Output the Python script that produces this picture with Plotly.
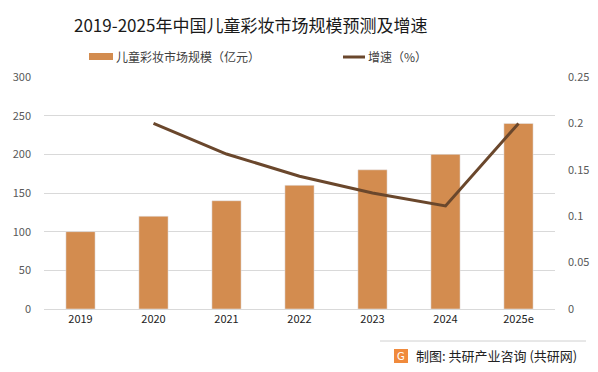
import plotly.graph_objects as go

years = ["2019", "2020", "2021", "2022", "2023", "2024", "2025e"]
market_size = [100, 120, 140, 160, 180, 200, 240]
growth_years = ["2020", "2021", "2022", "2023", "2024", "2025e"]
growth_rate = [0.2, 0.167, 0.143, 0.125, 0.111, 0.2]

title_text = "2019-2025年中国儿童彩妆市场规模预测及增速"
bar_name = "儿童彩妆市场规模（亿元）"
line_name = "增速（%）"
footer_text = "制图: 共研产业咨询 (共研网)"

BAR_COLOR = "#D38C4F"
LINE_COLOR = "#6A472C"
FONT = "Noto Sans CJK SC"

L, R, T, B = 44, 43, 77, 63
W, H = 598, 372
pw, ph = W - L - R, H - T - B

def px(x):
    return (x - L) / pw

def py(y):
    return (H - B - y) / ph

fig = go.Figure()
fig.add_trace(go.Bar(x=years, y=market_size, name=bar_name, marker_color=BAR_COLOR,
                     showlegend=False, yaxis="y", hoverinfo="skip"))
fig.add_trace(go.Scatter(x=growth_years, y=growth_rate, name=line_name, mode="lines",
                         line=dict(color=LINE_COLOR, width=3), showlegend=False, yaxis="y2",
                         hoverinfo="skip"))

shapes = [
    dict(type="rect", xref="paper", yref="paper", x0=px(89), x1=px(113), y0=py(60), y1=py(53),
         fillcolor=BAR_COLOR, line_width=0),
    dict(type="line", xref="paper", yref="paper", x0=px(343), x1=px(365), y0=py(57), y1=py(57),
         line=dict(color=LINE_COLOR, width=3)),
    dict(type="line", xref="paper", yref="paper", x0=px(380), x1=px(586), y0=py(341), y1=py(341),
         line=dict(color="#D0D0D0", width=1)),
    dict(type="rect", xref="paper", yref="paper", x0=px(394), x1=px(408), y0=py(363), y1=py(349),
         fillcolor="#F08A3C", line_width=0),
]
annotations = [
    dict(text=title_text, xref="paper", yref="paper", x=px(250), y=py(24), showarrow=False,
         xanchor="center", yanchor="middle", font=dict(family=FONT, size=17, color="#1a1a1a")),
    dict(text=bar_name, xref="paper", yref="paper", x=px(114), y=py(57), showarrow=False,
         xanchor="left", yanchor="middle", font=dict(family=FONT, size=12, color="#404040")),
    dict(text=line_name, xref="paper", yref="paper", x=px(366), y=py(57), showarrow=False,
         xanchor="left", yanchor="middle", font=dict(family=FONT, size=12, color="#404040")),
    dict(text="G", xref="paper", yref="paper", x=px(401), y=py(356), showarrow=False,
         xanchor="center", yanchor="middle", font=dict(family="DejaVu Sans", size=10, color="white")),
    dict(text=footer_text, xref="paper", yref="paper", x=px(414), y=py(355), showarrow=False,
         xanchor="left", yanchor="middle", font=dict(family=FONT, size=13, color="#222222")),
]

fig.update_layout(
    width=W, height=H,
    margin=dict(l=L, r=R, t=T, b=B, autoexpand=False),
    paper_bgcolor="white", plot_bgcolor="white",
    bargap=0.6,
    shapes=shapes, annotations=annotations,
    font=dict(family=FONT),
    hovermode=False,
    xaxis=dict(type="category", categoryorder="array", categoryarray=years,
               tickfont=dict(family=FONT, size=11, color="#222222"), showgrid=False,
               showline=True, linecolor="#D9D9D9", ticks=""),
    yaxis=dict(range=[0, 300], dtick=50, gridcolor="#D9D9D9", gridwidth=1,
               tickfont=dict(family=FONT, size=11, color="#595959"), zeroline=False,
               ticks="", ticklabelstandoff=12),
    yaxis2=dict(range=[0, 0.25], dtick=0.05, overlaying="y", side="right", showgrid=False,
                tickfont=dict(family=FONT, size=11, color="#595959"), zeroline=False,
                ticks="", ticklabelstandoff=12),
)

fig.write_html("out.html", config={"displayModeBar": False, "staticPlot": True})
with open("out.html", "r", encoding="utf-8") as f:
    html = f.read()
html = html.replace("<head>", "<head><style>html,body{margin:0;padding:0;overflow:hidden;}</style>", 1)
with open("out.html", "w", encoding="utf-8") as f:
    f.write(html)
